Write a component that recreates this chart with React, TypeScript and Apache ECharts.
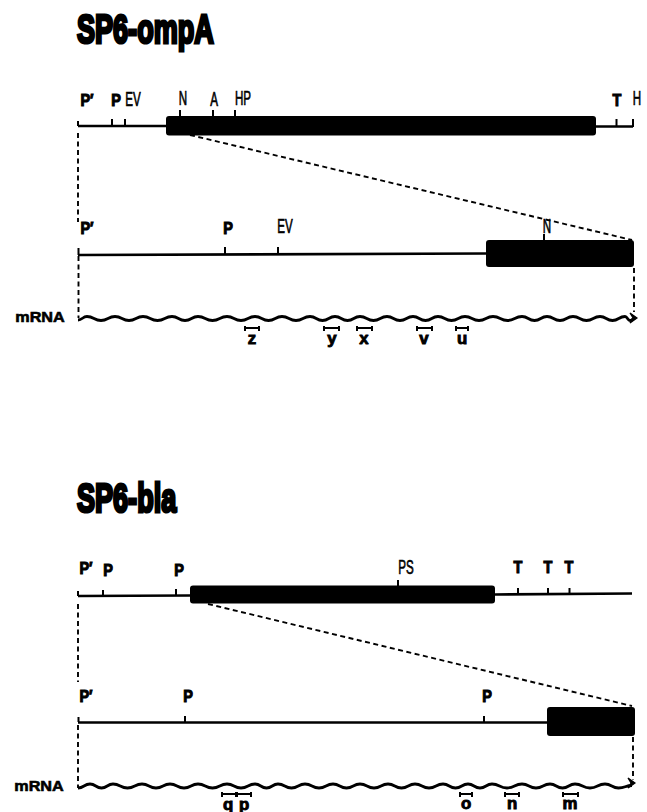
import React, { useEffect, useRef } from "react";
import * as echarts from "echarts";

// Restriction-map features (map position / row height on a page-sized scale)
const titles = [
  { t: "SP6-ompA", x: 77, y: 29 },
  { t: "SP6-bla", x: 77, y: 498 },
];
const heavySites = [
  { t: "P′", x: 87, y: 100 }, { t: "P", x: 116, y: 100 }, { t: "T", x: 617, y: 100 },
  { t: "P′", x: 87, y: 228 }, { t: "P", x: 228, y: 228 },
  { t: "P′", x: 86, y: 568 }, { t: "P", x: 108, y: 570 }, { t: "P", x: 179, y: 570 },
  { t: "T", x: 518, y: 567 }, { t: "T", x: 548, y: 567 }, { t: "T", x: 569, y: 567 },
  { t: "P′", x: 86, y: 696 }, { t: "P", x: 188, y: 696 }, { t: "P", x: 487, y: 696 },
];
const thinSites = [
  { t: "EV", x: 133, y: 99 }, { t: "N", x: 183, y: 98 }, { t: "A", x: 214, y: 99 },
  { t: "HP", x: 243, y: 98 }, { t: "H", x: 637, y: 98 },
  { t: "EV", x: 285, y: 226 }, { t: "N", x: 547, y: 226 },
  { t: "PS", x: 406, y: 567 },
];
const fragmentNames = [
  { t: "z", x: 252, y: 338 }, { t: "y", x: 332, y: 338 }, { t: "x", x: 364, y: 338 },
  { t: "v", x: 424, y: 338 }, { t: "u", x: 462, y: 338 },
  { t: "q", x: 228, y: 804 }, { t: "p", x: 244, y: 804 }, { t: "o", x: 466, y: 803 },
  { t: "n", x: 512, y: 803 }, { t: "m", x: 570, y: 803 },
];
const rnaLabels = [
  { t: "mRNA", x: 40, y: 317 },
  { t: "mRNA", x: 39, y: 786 },
];
const geneBoxes = [
  [166, 116, 596, 135.5], [486, 240, 634, 267],
  [190, 585.5, 495, 603.5], [547, 707, 635, 736],
];
const backbones = [
  [78, 126, 166, 126], [596, 126.5, 633, 126.5],
  [78, 255, 486, 253.5],
  [78, 596, 190, 595.5], [495, 594.5, 632, 593.5],
  [78, 722.5, 547, 722.5],
];
const siteTicks = [
  [78, 121, 78, 126], [112, 119, 112, 126], [125, 119, 125, 126],
  [180, 110, 180, 116], [213, 110, 213, 116], [235, 110, 235, 116],
  [616.5, 119, 616.5, 126], [633, 119, 633, 127],
  [78.5, 248, 78.5, 255], [225, 247, 225, 254], [278, 247, 278, 254], [544, 234, 544, 240],
  [78, 591, 78, 596], [103, 590, 103, 596], [176, 589, 176, 596],
  [518, 588, 518, 594], [548, 588, 548, 594], [569.5, 588, 569.5, 594], [398, 580, 398, 586],
  [78.5, 717, 78.5, 722], [185, 716, 185, 722], [484, 716, 484, 722],
];
const connectors = [
  [78, 133, 78, 222], [78.5, 256, 78.5, 318],
  [190, 135, 632, 240], [634, 268, 634, 312],
  [78, 604, 78, 682], [78, 725, 78, 788],
  [208, 604, 632, 706], [633, 737, 633, 780],
];
const fragmentBars = [
  [245, 259, 328], [324, 339, 328], [357, 372, 328], [417, 432, 328], [456, 468, 328],
  [222, 236, 794], [237, 251, 794], [460, 472, 794], [505, 519, 794], [563, 578, 794],
];
const topWaveCrests = [87, 115, 143, 172, 198, 227, 255, 282, 310, 335, 360, 387, 413, 438, 465, 493, 522, 547, 573, 600, 625];
const bottomWaveCrests = [90, 113, 142, 170, 198, 227, 255, 278, 305, 333, 360, 388, 415, 443, 468, 492, 522, 550, 575, 605];
const waveRows = [
  { start: 78, startY: 320, crestY: 316.5, troughY: 320.5, end: 635, crests: topWaveCrests },
  { start: 78, startY: 788, crestY: 784, troughY: 788, end: 632, crests: bottomWaveCrests },
];
const arrowTips = [[637, 318], [635, 783]];

const INK = "#000";

function segmentSeries(data: number[][], lineWidth: number, lineDash?: number[]) {
  return {
    type: "custom",
    coordinateSystem: "cartesian2d",
    silent: true,
    encode: { x: [0, 2], y: [1, 3] },
    data,
    renderItem: (_: any, api: any) => {
      const a = api.coord([api.value(0), api.value(1)]);
      const b = api.coord([api.value(2), api.value(3)]);
      return {
        type: "line",
        shape: { x1: a[0], y1: a[1], x2: b[0], y2: b[1] },
        style: { stroke: INK, lineWidth, lineDash, fill: null },
      };
    },
  };
}

function textSeries(
  items: { t: string; x: number; y: number }[],
  font: string,
  scaleX: number,
  strokeWidth: number,
  align = "center",
) {
  return {
    type: "custom",
    coordinateSystem: "cartesian2d",
    silent: true,
    encode: { x: 0, y: 1 },
    data: items.map((d) => [d.x, d.y]),
    renderItem: (params: any, api: any) => {
      const p = api.coord([api.value(0), api.value(1)]);
      return {
        type: "text",
        x: p[0],
        y: p[1],
        scaleX,
        style: {
          text: items[params.dataIndex].t,
          font,
          fill: INK,
          stroke: strokeWidth ? INK : undefined,
          lineWidth: strokeWidth,
          align,
          verticalAlign: "middle",
        },
      };
    },
  };
}

export default function App() {
  const ref = useRef<HTMLDivElement>(null);
  useEffect(() => {
    document.body.style.margin = "0";
    const chart = echarts.init(ref.current!, undefined, { renderer: "svg" });
    chart.setOption({
      animation: false,
      backgroundColor: "#fff",
      grid: { left: 0, right: 0, top: 0, bottom: 0 },
      xAxis: { type: "value", min: 0, max: 647, show: false },
      yAxis: { type: "value", min: 0, max: 812, inverse: true, show: false },
      series: [
        segmentSeries(backbones, 2.6),
        segmentSeries(siteTicks, 2),
        segmentSeries(connectors, 1.9, [5, 3.5]),
        {
          type: "custom",
          coordinateSystem: "cartesian2d",
          silent: true,
          encode: { x: [0, 2], y: [1, 3] },
          data: geneBoxes,
          renderItem: (_: any, api: any) => {
            const a = api.coord([api.value(0), api.value(1)]);
            const b = api.coord([api.value(2), api.value(3)]);
            return {
              type: "rect",
              shape: { x: a[0], y: a[1], width: b[0] - a[0], height: b[1] - a[1], r: 3 },
              style: { fill: INK },
            };
          },
        },
        {
          type: "custom",
          coordinateSystem: "cartesian2d",
          silent: true,
          encode: { x: [0, 1], y: 2 },
          data: fragmentBars,
          renderItem: (_: any, api: any) => {
            const a = api.coord([api.value(0), api.value(2)]);
            const b = api.coord([api.value(1), api.value(2)]);
            const shape = (x1: number, y1: number, x2: number, y2: number) => ({
              type: "line",
              shape: { x1, y1, x2, y2 },
              style: { stroke: INK, lineWidth: 2 },
            });
            return {
              type: "group",
              children: [
                shape(a[0], a[1], b[0], b[1]),
                shape(a[0], a[1] - 2, a[0], a[1] + 3),
                shape(b[0], b[1] - 2, b[0], b[1] + 3),
              ],
            };
          },
        },
        {
          type: "custom",
          coordinateSystem: "cartesian2d",
          silent: true,
          encode: { x: 0, y: 1 },
          data: waveRows.map((w) => [w.start, w.crestY]),
          renderItem: (params: any, api: any) => {
            const w = waveRows[params.dataIndex];
            const pts: number[][] = [[w.start, w.startY]];
            w.crests.forEach((c, i) => {
              if (i > 0) pts.push([(w.crests[i - 1] + c) / 2, w.troughY]);
              pts.push([c, w.crestY]);
            });
            pts.push([(w.crests[w.crests.length - 1] + w.end) / 2, w.troughY]);
            pts.push([w.end, w.crestY + 1.5]);
            const px = pts.map((p) => api.coord(p));
            let d = `M${px[0][0]} ${px[0][1]}`;
            for (let i = 1; i < px.length; i++) {
              const m = (px[i - 1][0] + px[i][0]) / 2;
              d += ` C${m} ${px[i - 1][1]} ${m} ${px[i][1]} ${px[i][0]} ${px[i][1]}`;
            }
            return {
              type: "path",
              shape: { pathData: d },
              style: { stroke: INK, lineWidth: 2.8, fill: "none" },
            };
          },
        },
        {
          type: "custom",
          coordinateSystem: "cartesian2d",
          silent: true,
          encode: { x: 0, y: 1 },
          data: arrowTips,
          renderItem: (_: any, api: any) => {
            const p = api.coord([api.value(0), api.value(1)]);
            return {
              type: "polygon",
              shape: { points: [[p[0] - 7, p[1] - 5], [p[0], p[1]], [p[0] - 7, p[1] + 5], [p[0] - 4, p[1]]] },
              style: { fill: INK, stroke: INK, lineWidth: 1.2 },
            };
          },
        },
        textSeries(titles, "bold 41px 'Liberation Sans'", 0.66, 3.2, "left"),
        textSeries(heavySites, "bold 17px 'Liberation Sans'", 0.85, 1.1),
        textSeries(thinSites, "20px 'Liberation Sans'", 0.58, 0.7),
        textSeries(fragmentNames, "bold 16px 'Liberation Sans'", 1.05, 0.9),
        textSeries(rnaLabels, "bold 15px 'Liberation Sans'", 1.08, 0.6),
      ],
    });
    return () => chart.dispose();
  }, []);
  return <div ref={ref} style={{ position: "fixed", left: 0, top: 0, width: 647, height: 812 }} />;
}
